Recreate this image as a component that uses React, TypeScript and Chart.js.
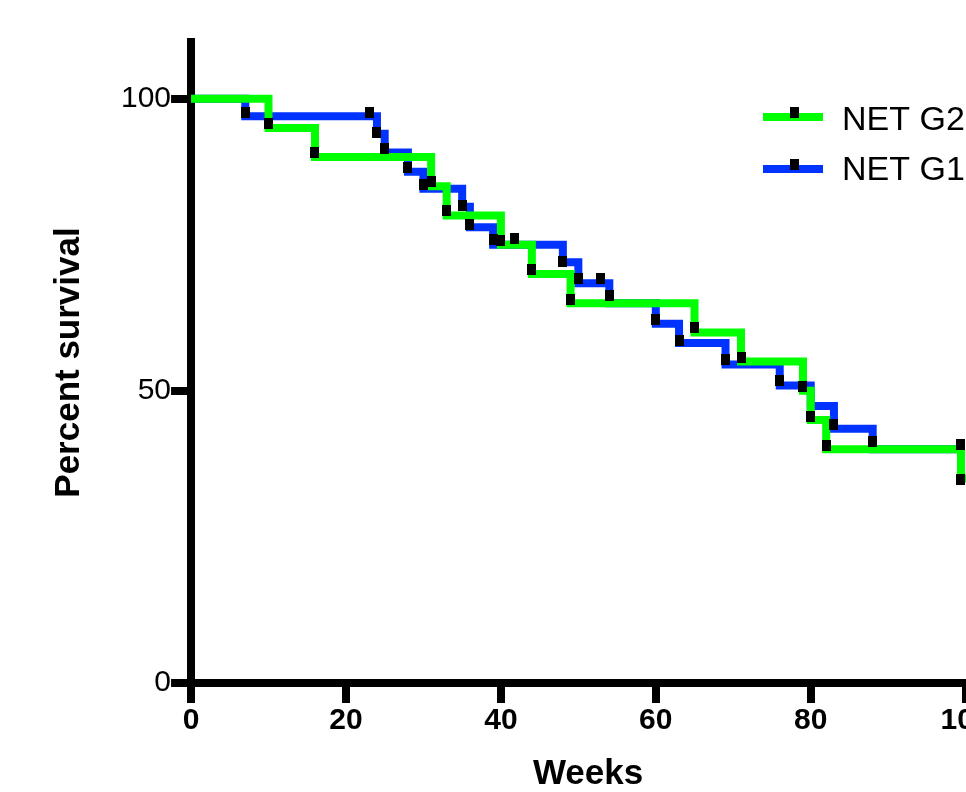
import React, { useEffect, useRef } from "react";
import { Chart, registerables } from "chart.js";

Chart.register(...registerables);

// ---- data ----
const seriesLabels = ["NET G2", "NET G1"];
const g2Weeks = [0, 10, 16, 31, 33, 40, 44, 49, 65, 71, 79, 80, 82, 99.4, 104];
const g2Survival = [100, 95, 90, 85, 80, 75, 70, 65, 60, 55, 50, 45, 40, 35, 35];
const g1Weeks = [0, 7, 24, 25, 28, 30, 35, 36, 39, 48, 50, 54, 60, 63, 69, 76, 80, 83, 88, 99.3];
const g1Survival = [100, 97, 94, 90.8, 87.5, 84.6, 81.5, 78, 75, 72, 68.4, 65, 61.5, 58.2, 54.5, 50.9, 47.4, 43.5, 40, 40];
const g2MarkWeeks = [10, 16, 31, 33, 40, 44, 49, 65, 71, 79, 80, 82, 99.4];
const g2MarkSurvival = [95.7, 90.8, 85.8, 80.8, 75.8, 70.7, 65.7, 60.8, 55.7, 50.7, 45.6, 40.6, 34.8];
const g1MarkWeeks = [7, 23.1, 24, 25, 28, 30, 35, 36, 39, 41.7, 48, 50, 52.9, 54, 60, 63, 69, 76, 83, 88, 99.3];
const g1MarkSurvival = [97.7, 97.7, 94.2, 91.5, 88.3, 85.3, 81.7, 78.4, 75.9, 76.1, 72.1, 69.3, 69.3, 66.3, 62.2, 58.7, 55.3, 51.8, 44.3, 41.3, 40.8];
const xTicks = [0, 20, 40, 60, 80, 100];
const yTicks = [0, 50, 100];
const xTitle = "Weeks";
const yTitle = "Percent survival";

const GREEN = "#00ff00";
const BLUE = "#0033ff";
const FONT = "'Liberation Sans', Arial, sans-serif";

function toPoints(xs: number[], ys: number[]) {
  return xs.map((x, i) => ({ x, y: ys[i] }));
}

function makeMark(): HTMLCanvasElement {
  const c = document.createElement("canvas");
  c.width = 9;
  c.height = 11;
  const cx = c.getContext("2d")!;
  cx.fillStyle = "#000";
  cx.fillRect(0, 0, 9, 11);
  return c;
}

const legendPlugin = {
  id: "kmLegend",
  afterDraw(chart: any) {
    const ctx = chart.ctx as CanvasRenderingContext2D;
    const rows = [
      { label: seriesLabels[0], color: GREEN, y: 117, base: 130 },
      { label: seriesLabels[1], color: BLUE, y: 169, base: 180 },
    ];
    ctx.save();
    rows.forEach((r) => {
      ctx.strokeStyle = r.color;
      ctx.lineWidth = 8;
      ctx.lineCap = "butt";
      ctx.beginPath();
      ctx.moveTo(763, r.y);
      ctx.lineTo(823, r.y);
      ctx.stroke();
      ctx.fillStyle = "#000";
      ctx.fillRect(790, r.y - 10, 9, 11);
      ctx.font = `34px ${FONT}`;
      ctx.textBaseline = "alphabetic";
      ctx.textAlign = "left";
      ctx.fillStyle = "#000";
      ctx.fillText(r.label, 842, r.base);
    });
    ctx.restore();
  },
};

export default function App() {
  const ref = useRef<HTMLCanvasElement | null>(null);

  useEffect(() => {
    if (!ref.current) return;
    const mark = makeMark();
    const chart = new Chart(ref.current, {
      type: "line",
      data: {
        datasets: [
          {
            label: "g2marks",
            data: toPoints(g2MarkWeeks, g2MarkSurvival),
            showLine: false,
            pointStyle: mark as any,
            pointRadius: 5,
            borderColor: "#000",
            backgroundColor: "#000",
          },
          {
            label: "g1marks",
            data: toPoints(g1MarkWeeks, g1MarkSurvival),
            showLine: false,
            pointStyle: mark as any,
            pointRadius: 5,
            borderColor: "#000",
            backgroundColor: "#000",
          },
          {
            label: seriesLabels[0],
            data: toPoints(g2Weeks, g2Survival),
            stepped: "before",
            borderColor: GREEN,
            borderWidth: 8,
            borderJoinStyle: "miter",
            borderCapStyle: "butt",
            pointRadius: 0,
            fill: false,
          },
          {
            label: seriesLabels[1],
            data: toPoints(g1Weeks, g1Survival),
            stepped: "before",
            borderColor: BLUE,
            borderWidth: 8,
            borderJoinStyle: "miter",
            borderCapStyle: "butt",
            pointRadius: 0,
            fill: false,
          },
        ],
      },
      options: {
        responsive: false,
        animation: false,
        devicePixelRatio: 1,
        layout: { padding: { top: 42, right: 15, left: 0, bottom: 0 } },
        plugins: {
          legend: { display: false },
          tooltip: { enabled: false },
        },
        scales: {
          x: {
            type: "linear",
            min: 0,
            max: 102.5,
            afterBuildTicks: (s: any) => {
              s.ticks = xTicks.map((v) => ({ value: v }));
            },
            grid: {
              drawOnChartArea: false,
              drawTicks: true,
              tickLength: 20,
              tickWidth: 8,
              tickColor: "#000",
              lineWidth: 8,
              color: "#000",
            },
            border: { display: true, width: 8, color: "#000" },
            ticks: {
              color: "#000",
              padding: 0,
              font: { family: FONT, size: 30, weight: "bold" },
              maxRotation: 0,
              autoSkip: false,
            },
            title: {
              display: true,
              text: xTitle,
              color: "#000",
              font: { family: FONT, size: 35, weight: "bold", lineHeight: 1 },
              padding: { top: 18, bottom: 0 },
            },
          },
          y: {
            type: "linear",
            min: 0,
            max: 109.7,
            afterBuildTicks: (s: any) => {
              s.ticks = yTicks.map((v) => ({ value: v }));
            },
            grid: {
              drawOnChartArea: false,
              drawTicks: true,
              tickLength: 20,
              tickWidth: 8,
              tickColor: "#000",
              lineWidth: 8,
              color: "#000",
            },
            border: { display: true, width: 8, color: "#000" },
            ticks: {
              color: "#000",
              padding: 0,
              font: { family: FONT, size: 30 },
              autoSkip: false,
            },
            title: {
              display: true,
              text: yTitle,
              color: "#000",
              font: { family: FONT, size: 35, weight: "bold", lineHeight: 1.2 },
              padding: { top: 48.5, bottom: 30.5 },
            },
          },
        },
      } as any,
      plugins: [legendPlugin],
    });
    return () => chart.destroy();
  }, []);

  return (
    <div
      style={{
        position: "absolute",
        left: 0,
        top: 0,
        width: 966,
        height: 792,
        overflow: "hidden",
        background: "#fff",
      }}
    >
      <canvas ref={ref} width={1000} height={792} style={{ display: "block" }} />
    </div>
  );
}
